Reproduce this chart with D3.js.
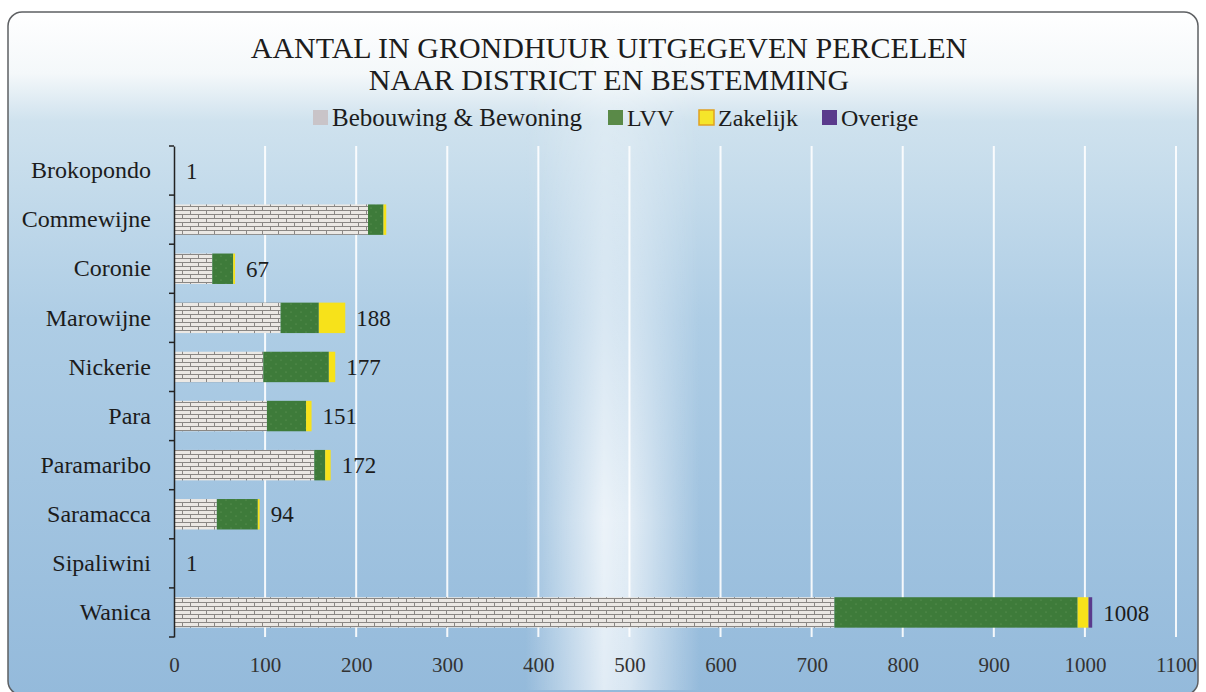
<!DOCTYPE html>
<html>
<head>
<meta charset="utf-8">
<script src="https://cdn.jsdelivr.net/npm/d3@7"></script>
<style>
  body { margin: 0; background: #ffffff; }
  svg { display: block; }
</style>
</head>
<body>
<div id="chart"></div>
<script>
// data
const districts = ["Brokopondo", "Commewijne", "Coronie", "Marowijne", "Nickerie", "Para", "Paramaribo", "Saramacca", "Sipaliwini", "Wanica"]
const bebouwing = [0, 213, 42, 117, 98, 102, 154, 47, 0, 725]
const lvv = [1, 17, 23, 42, 72, 43, 12, 45, 1, 267]
const zakelijk = [0, 3, 2, 29, 7, 6, 6, 2, 0, 12]
const overige = [0, 0, 0, 0, 0, 0, 0, 0, 0, 4]
const totals = [1, null, 67, 188, 177, 151, 172, 94, 1, 1008]
const seriesNames = ["Bebouwing & Bewoning", "LVV", "Zakelijk", "Overige"]
const xTicks = [0, 100, 200, 300, 400, 500, 600, 700, 800, 900, 1000, 1100]
const titleLines = ["AANTAL IN GRONDHUUR UITGEGEVEN PERCELEN", "NAAR DISTRICT EN BESTEMMING"]

const data = districts.map((name, i) => ({
    name,
    "Bebouwing & Bewoning": bebouwing[i],
    "LVV": lvv[i],
    "Zakelijk": zakelijk[i],
    "Overige": overige[i],
    total: totals[i]
}))

const width = 1206
const height = 692
const margin = {top: 146, right: 30, bottom: 55, left: 174}
const innerWidth = width - margin.left - margin.right
const innerHeight = height - margin.top - margin.bottom
const font = "Liberation Serif, serif"

const svg = d3.select("#chart").append("svg")
              .attr("width", width)
              .attr("height", height)
              .attr("viewBox", [0, 0, width, height])
              .attr("font-family", font)

const defs = svg.append("defs")

// background gradient
const bg = defs.append("linearGradient").attr("id", "bg").attr("x1", 0).attr("y1", 0).attr("x2", 0).attr("y2", 1)
bg.append("stop").attr("offset", "0%").attr("stop-color", "#ffffff")
bg.append("stop").attr("offset", "9%").attr("stop-color", "#f4f8fa")
bg.append("stop").attr("offset", "16%").attr("stop-color", "#cfe2ee")
bg.append("stop").attr("offset", "45%").attr("stop-color", "#aecde5")
bg.append("stop").attr("offset", "100%").attr("stop-color", "#94badb")

// light glow in the middle
const glow = defs.append("linearGradient").attr("id", "glow").attr("x1", 0).attr("y1", 0).attr("x2", 1).attr("y2", 0)
glow.append("stop").attr("offset", "0%").attr("stop-color", "#ffffff").attr("stop-opacity", 0)
glow.append("stop").attr("offset", "45%").attr("stop-color", "#ffffff").attr("stop-opacity", 0.8)
glow.append("stop").attr("offset", "60%").attr("stop-color", "#ffffff").attr("stop-opacity", 0.7)
glow.append("stop").attr("offset", "100%").attr("stop-color", "#ffffff").attr("stop-opacity", 0)
const glowV = defs.append("linearGradient").attr("id", "glowMask").attr("x1", 0).attr("y1", 0).attr("x2", 0).attr("y2", 1)
glowV.append("stop").attr("offset", "0%").attr("stop-color", "#fff").attr("stop-opacity", 0.2)
glowV.append("stop").attr("offset", "40%").attr("stop-color", "#fff").attr("stop-opacity", 0.6)
glowV.append("stop").attr("offset", "75%").attr("stop-color", "#fff").attr("stop-opacity", 1)
glowV.append("stop").attr("offset", "100%").attr("stop-color", "#fff").attr("stop-opacity", 0.9)
defs.append("mask").attr("id", "gm")
    .append("rect").attr("x", 0).attr("y", 0).attr("width", width).attr("height", height).attr("fill", "url(#glowMask)")

// brick pattern
const brick = defs.append("pattern").attr("id", "brick").attr("patternUnits", "userSpaceOnUse")
                  .attr("width", 16).attr("height", 8)
brick.append("rect").attr("width", 16).attr("height", 8).attr("fill", "#ebe8e4")
brick.append("path")
     .attr("d", "M0,0.5H16M0,4.5H16M0.5,0V4M8.5,4V8")
     .attr("stroke", "#8a8784").attr("stroke-width", 1).attr("fill", "none")

// dotted green pattern
const dots = defs.append("pattern").attr("id", "dots").attr("patternUnits", "userSpaceOnUse")
                 .attr("width", 10).attr("height", 8)
dots.append("rect").attr("width", 10).attr("height", 8).attr("fill", "#3e7b3a")
dots.append("circle").attr("cx", 2).attr("cy", 2).attr("r", 0.6).attr("fill", "#6a9c60")
dots.append("circle").attr("cx", 7).attr("cy", 6).attr("r", 0.6).attr("fill", "#6a9c60")

const colors = {
    "Bebouwing & Bewoning": "url(#brick)",
    "LVV": "url(#dots)",
    "Zakelijk": "#f7e21a",
    "Overige": "#5a3a8c"
}
const legendColors = {
    "Bebouwing & Bewoning": "#c9c4c8",
    "LVV": "#5a8a48",
    "Zakelijk": "#f5e52a",
    "Overige": "#5a3a8c"
}

// frame (bottom edge falls just outside the picture, like the scan)
svg.append("rect").attr("x", 8).attr("y", 12).attr("width", 1190).attr("height", 683)
   .attr("rx", 14).attr("fill", "url(#bg)").attr("stroke", "#5e6063").attr("stroke-width", 1.5)
svg.append("rect").attr("x", 525).attr("y", 20).attr("width", 175).attr("height", 670)
   .attr("fill", "url(#glow)").attr("mask", "url(#gm)")

// title
svg.append("g")
   .selectAll("text")
   .data(titleLines)
   .join("text")
   .attr("x", 609)
   .attr("y", (d, i) => 58 + i * 32)
   .attr("text-anchor", "middle")
   .attr("font-size", 30)
   .attr("fill", "#1c1c1c")
   .text(d => d)

// scales
const stacked = d3.stack().keys(seriesNames)(data)

const xScale = d3.scaleLinear()
                 .domain([0, 1100])
                 .range([0, innerWidth])

const yScale = d3.scaleBand()
                 .domain(districts)
                 .range([0, innerHeight])
                 .paddingInner(0.38)
                 .paddingOuter(0.19)

const chart = svg.append("g")
                 .attr("transform", `translate(${margin.left}, ${margin.top})`)

// gridlines
chart.append("g")
     .selectAll("line")
     .data(xTicks.filter(d => d > 0))
     .join("line")
     .attr("x1", d => xScale(d))
     .attr("x2", d => xScale(d))
     .attr("y1", 0)
     .attr("y2", innerHeight)
     .attr("stroke", "#ffffff")
     .attr("stroke-width", 2)
     .attr("opacity", 0.9)

// bars
chart.selectAll(".series")
     .data(stacked)
     .join("g")
     .attr("class", "series")
     .style("fill", d => colors[d.key])
     .selectAll("rect")
     .data(d => d)
     .join("rect")
     .attr("x", d => xScale(d[0]))
     .attr("y", d => yScale(d.data.name))
     .attr("width", d => Math.max(0, xScale(d[1]) - xScale(d[0])))
     .attr("height", yScale.bandwidth())

// total labels
chart.append("g")
     .selectAll("text")
     .data(data.filter(d => d.total !== null))
     .join("text")
     .attr("x", d => xScale(d.total) + 11)
     .attr("y", d => yScale(d.name) + yScale.bandwidth() / 2)
     .attr("dy", "0.35em")
     .attr("font-size", 23)
     .attr("fill", "#1c1c1c")
     .text(d => d.total)

// y axis
const yAxis = d3.axisLeft(yScale).tickSize(0).tickPadding(23)
const yG = chart.append("g").call(yAxis).attr("font-family", font).attr("font-size", 24)
yG.select(".domain").attr("stroke", "#222").attr("stroke-width", 1.5)
yG.selectAll("text").attr("fill", "#1c1c1c")

// tick marks between categories
const step = yScale.step()
chart.append("g")
     .selectAll("line")
     .data(d3.range(districts.length + 1))
     .join("line")
     .attr("x1", -5)
     .attr("x2", 0)
     .attr("y1", i => yScale(districts[0]) - yScale.paddingInner() * step / 2 + i * step)
     .attr("y2", i => yScale(districts[0]) - yScale.paddingInner() * step / 2 + i * step)
     .attr("stroke", "#222")
     .attr("stroke-width", 1.5)

// x axis
const xAxis = d3.axisBottom(xScale).tickValues(xTicks).tickFormat(d3.format("d")).tickSize(0).tickPadding(20)
const xG = chart.append("g")
                .attr("transform", `translate(0, ${innerHeight})`)
                .call(xAxis)
                .attr("font-family", font)
                .attr("font-size", 21)
xG.select(".domain").remove()
xG.selectAll("text").attr("fill", "#333")

// legend
const legendItems = [
    {key: "Bebouwing & Bewoning", x: 313},
    {key: "LVV", x: 608},
    {key: "Zakelijk", x: 699},
    {key: "Overige", x: 822}
]
const legend = svg.append("g")
                  .selectAll("g")
                  .data(legendItems)
                  .join("g")
                  .attr("transform", d => `translate(${d.x}, 118)`)
legend.append("rect")
      .attr("x", 0)
      .attr("y", -8)
      .attr("width", 15)
      .attr("height", 15)
      .attr("fill", d => legendColors[d.key])
      .attr("stroke", d => d.key === "Zakelijk" ? "#e0a020" : "none")
      .attr("stroke-width", 1.5)
legend.append("text")
      .attr("x", 19)
      .attr("y", 0)
      .attr("dy", "0.33em")
      .attr("font-size", d => d.key === "Bebouwing & Bewoning" ? 25 : 24)
      .attr("fill", "#1c1c1c")
      .text(d => d.key)
</script>
</body>
</html>
